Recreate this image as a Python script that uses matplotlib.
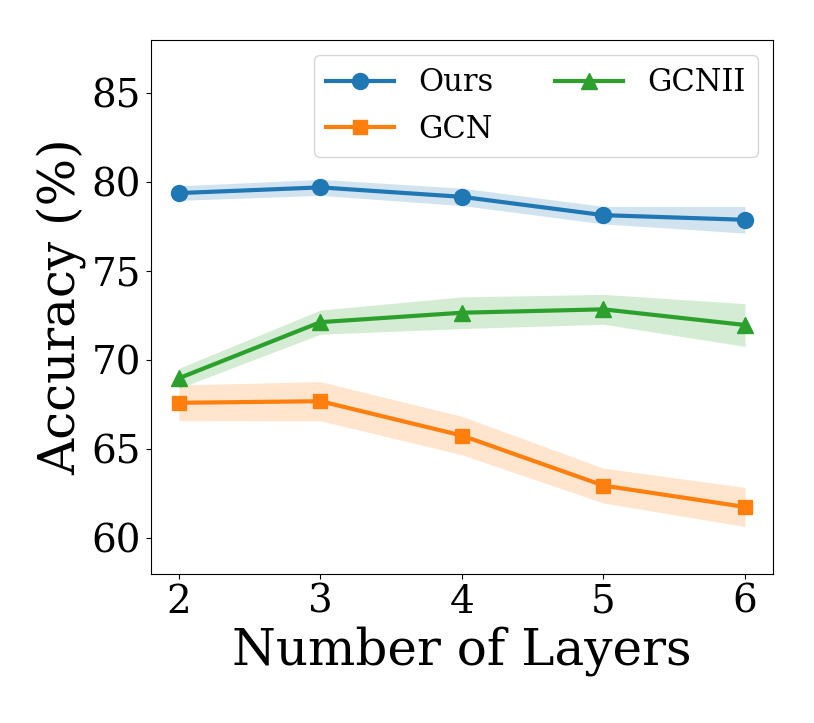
import matplotlib
matplotlib.use("Agg")
import matplotlib.pyplot as plt
import numpy as np

layers = [2, 3, 4, 5, 6]
ours_mean = [79.4, 79.72, 79.19, 78.16, 77.9]
ours_std = [0.41, 0.45, 0.49, 0.49, 0.75]
gcn_mean = [67.62, 67.71, 65.78, 62.97, 61.77]
gcn_std = [1.0, 1.1, 1.08, 0.98, 1.1]
gcnii_mean = [69.0, 72.15, 72.68, 72.87, 71.99]
gcnii_std = [0.56, 0.68, 0.89, 0.84, 1.2]

plt.rcParams['font.family'] = 'DejaVu Serif'

fig = plt.figure(figsize=(8.14, 7.23), dpi=100)
ax = fig.add_axes([0.185, 0.206, 0.765, 0.7387])

series = [
    ("Ours", ours_mean, ours_std, "#1f77b4", "o", 11.5),
    ("GCN", gcn_mean, gcn_std, "#ff7f0e", "s", 10.5),
    ("GCNII", gcnii_mean, gcnii_std, "#2ca02c", "^", 11.5),
]
x = np.array(layers)
for name, m, s, c, mk, ms in series:
    m = np.array(m); s = np.array(s)
    ax.plot(x, m, color=c, marker=mk, markersize=ms, linewidth=3, label=name)
    ax.fill_between(x, m - s, m + s, color=c, alpha=0.2, linewidth=0)

ax.set_ylim(58, 88)
ax.set_xticks(layers)
ax.set_yticks([60, 65, 70, 75, 80, 85])
ax.tick_params(labelsize=28)
ax.set_xlabel("Number of Layers", fontsize=36)
ax.set_ylabel("Accuracy (%)", fontsize=36)
ax.legend(ncol=2, loc="upper right", fontsize=22, handlelength=2.23)

fig.savefig("out.png", dpi=100)
